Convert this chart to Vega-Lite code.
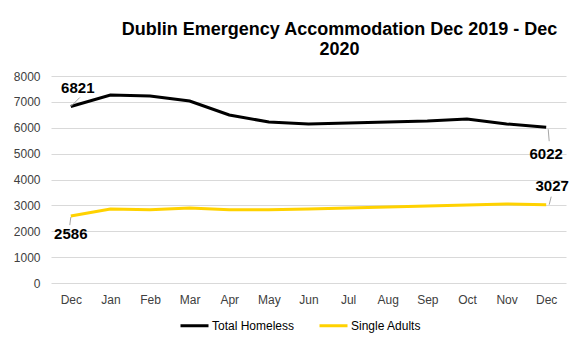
{
  "$schema": "https://vega.github.io/schema/vega-lite/v6.json",
  "width": 515,
  "height": 207,
  "autosize": {"type": "none"},
  "padding": {"left": 51, "top": 76, "right": 22, "bottom": 69},
  "background": "white",
  "title": {
    "text": ["Dublin Emergency Accommodation Dec 2019 - Dec", "2020"],
    "font": "Liberation Sans",
    "fontSize": 18,
    "fontWeight": "bold",
    "color": "#000000",
    "anchor": "middle",
    "lineHeight": 20,
    "dx": 31,
    "offset": 11
  },
  "config": {
    "font": "Liberation Sans",
    "view": {"stroke": null},
    "axis": {"labelFont": "Liberation Sans", "labelFontSize": 12, "labelColor": "#404040"}
  },
  "datasets": {
    "series": [
      {"m": "Dec19", "series": "Total Homeless", "value": 6821},
      {"m": "Jan", "series": "Total Homeless", "value": 7266},
      {"m": "Feb", "series": "Total Homeless", "value": 7227},
      {"m": "Mar", "series": "Total Homeless", "value": 7034},
      {"m": "Apr", "series": "Total Homeless", "value": 6493},
      {"m": "May", "series": "Total Homeless", "value": 6222},
      {"m": "Jun", "series": "Total Homeless", "value": 6145},
      {"m": "Jul", "series": "Total Homeless", "value": 6184},
      {"m": "Aug", "series": "Total Homeless", "value": 6222},
      {"m": "Sep", "series": "Total Homeless", "value": 6261},
      {"m": "Oct", "series": "Total Homeless", "value": 6338},
      {"m": "Nov", "series": "Total Homeless", "value": 6145},
      {"m": "Dec20", "series": "Total Homeless", "value": 6022},
      {"m": "Dec19", "series": "Single Adults", "value": 2586},
      {"m": "Jan", "series": "Single Adults", "value": 2860},
      {"m": "Feb", "series": "Single Adults", "value": 2830},
      {"m": "Mar", "series": "Single Adults", "value": 2898},
      {"m": "Apr", "series": "Single Adults", "value": 2830},
      {"m": "May", "series": "Single Adults", "value": 2830},
      {"m": "Jun", "series": "Single Adults", "value": 2860},
      {"m": "Jul", "series": "Single Adults", "value": 2898},
      {"m": "Aug", "series": "Single Adults", "value": 2937},
      {"m": "Sep", "series": "Single Adults", "value": 2976},
      {"m": "Oct", "series": "Single Adults", "value": 3014},
      {"m": "Nov", "series": "Single Adults", "value": 3053},
      {"m": "Dec20", "series": "Single Adults", "value": 3027}
    ]
  },
  "data": {"name": "series"},
  "encoding": {
    "x": {
      "field": "m",
      "type": "ordinal",
      "sort": null,
      "scale": {"type": "point", "padding": 0.5},
      "axis": {
        "title": null,
        "labelAngle": 0,
        "labelExpr": "slice(datum.value, 0, 3)",
        "ticks": false,
        "domain": false,
        "labelPadding": 11
      }
    },
    "y": {
      "field": "value",
      "type": "quantitative",
      "scale": {"domain": [0, 8000], "nice": false},
      "axis": {
        "title": null,
        "format": "d",
        "values": [0, 1000, 2000, 3000, 4000, 5000, 6000, 7000, 8000],
        "ticks": false,
        "domain": false,
        "gridColor": "#d9d9d9",
        "gridWidth": 1,
        "labelPadding": 11
      }
    }
  },
  "layer": [
    {
      "mark": {"type": "line", "strokeWidth": 3},
      "encoding": {
        "color": {
          "field": "series",
          "type": "nominal",
          "scale": {"domain": ["Total Homeless", "Single Adults"], "range": ["#000000", "#FFD200"]},
          "legend": {
            "title": null,
            "orient": "none",
            "legendX": 128,
            "legendY": 234,
            "direction": "horizontal",
            "symbolType": "stroke",
            "symbolSize": 784,
            "symbolStrokeWidth": 3,
            "labelFont": "Liberation Sans",
            "labelFontSize": 12,
            "labelColor": "#000000",
            "labelOffset": 2,
            "columnPadding": 18
          }
        }
      }
    },
    {
      "transform": [{"filter": "datum.m == 'Dec19' && datum.series == 'Total Homeless'"}],
      "mark": {"type": "text", "dx": 7, "dy": -19, "fontSize": 15, "fontWeight": "bold", "color": "#000000"},
      "encoding": {"text": {"field": "value", "type": "quantitative"}}
    },
    {
      "transform": [{"filter": "datum.m == 'Dec19' && datum.series == 'Single Adults'"}],
      "mark": {"type": "text", "dx": 0, "dy": 18, "fontSize": 15, "fontWeight": "bold", "color": "#000000"},
      "encoding": {"text": {"field": "value", "type": "quantitative"}}
    },
    {
      "transform": [{"filter": "datum.m == 'Dec20' && datum.series == 'Total Homeless'"}],
      "mark": {"type": "text", "dx": 0, "dy": 27, "fontSize": 15, "fontWeight": "bold", "color": "#000000"},
      "encoding": {"text": {"field": "value", "type": "quantitative"}}
    },
    {
      "transform": [{"filter": "datum.m == 'Dec20' && datum.series == 'Single Adults'"}],
      "mark": {"type": "text", "dx": 6, "dy": -19, "fontSize": 15, "fontWeight": "bold", "color": "#000000"},
      "encoding": {"text": {"field": "value", "type": "quantitative"}}
    },
    {
      "transform": [{"filter": "datum.m == 'Dec19' && datum.series == 'Total Homeless'"}],
      "mark": {"type": "rule", "color": "#a6a6a6", "strokeWidth": 1, "x2Offset": 9, "y2Offset": -9},
      "encoding": {"x2": {"field": "m"}, "y2": {"field": "value"}}
    },
    {
      "transform": [{"filter": "datum.m == 'Dec19' && datum.series == 'Single Adults'"}],
      "mark": {"type": "rule", "color": "#a6a6a6", "strokeWidth": 1, "yOffset": 1, "x2Offset": -1, "y2Offset": 9},
      "encoding": {"x2": {"field": "m"}, "y2": {"field": "value"}}
    },
    {
      "transform": [{"filter": "datum.m == 'Dec20' && datum.series == 'Total Homeless'"}],
      "mark": {"type": "rule", "color": "#a6a6a6", "strokeWidth": 1, "xOffset": 2, "yOffset": 2, "x2Offset": 3, "y2Offset": 14},
      "encoding": {"x2": {"field": "m"}, "y2": {"field": "value"}}
    },
    {
      "transform": [{"filter": "datum.m == 'Dec20' && datum.series == 'Single Adults'"}],
      "mark": {"type": "rule", "color": "#a6a6a6", "strokeWidth": 1, "xOffset": 3, "x2Offset": 5, "y2Offset": -8},
      "encoding": {"x2": {"field": "m"}, "y2": {"field": "value"}}
    }
  ]
}
